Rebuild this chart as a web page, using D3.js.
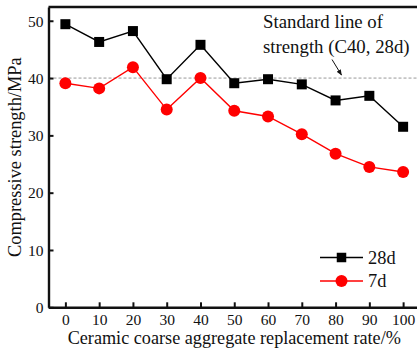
<!DOCTYPE html>
<html>
<head>
<meta charset="utf-8">
<script src="https://cdn.jsdelivr.net/npm/d3@7"></script>
<style>
  html, body { margin: 0; padding: 0; background: #fff; }
  svg { display: block; font-family: "Liberation Serif", "Times New Roman", serif; }
</style>
</head>
<body>
<svg id="chart" width="417" height="351"></svg>
<script>
// Replacement rate of ceramic coarse aggregate (%)
const rates = [0, 10, 20, 30, 40, 50, 60, 70, 80, 90, 100];
// Compressive strength (MPa)
const strength28d = [49.4, 46.3, 48.2, 39.8, 45.8, 39.1, 39.8, 38.9, 36.1, 36.9, 31.5];
const strength7d  = [39.1, 38.2, 41.9, 34.5, 40.0, 34.3, 33.3, 30.2, 26.8, 24.5, 23.6];
const yTicks = [0, 10, 20, 30, 40, 50];
const xTicks = [0, 10, 20, 30, 40, 50, 60, 70, 80, 90, 100];
const standardLine = 40;

const svg = d3.select("#chart");
const plotLeft = 48.5, plotRight = 420, plotTop = 7, plotBottom = 307.3;

const x = d3.scaleLinear().domain([-5, 105]).range([plotLeft, plotRight]);
const y = d3.scaleLinear().domain([0, 52.4]).range([plotBottom, plotTop]);

const ink = "#111";

// standard strength reference line
svg.append("line")
  .attr("x1", x(-5)).attr("x2", x(105))
  .attr("y1", y(standardLine)).attr("y2", y(standardLine))
  .attr("stroke", "#999").attr("stroke-width", 1)
  .attr("stroke-dasharray", "3,2");

// axes
const xAxis = d3.axisBottom(x).tickValues(xTicks).tickSizeInner(-5).tickSizeOuter(0).tickPadding(6.5);
const gx = svg.append("g").attr("transform", `translate(0,${plotBottom})`).call(xAxis);
const yAxis = d3.axisLeft(y).tickValues(yTicks).tickSizeInner(-5).tickSizeOuter(0).tickPadding(5);
const gy = svg.append("g").attr("transform", `translate(${plotLeft},0)`).call(yAxis);

[gx, gy].forEach(g => {
  g.select(".domain").attr("stroke", ink).attr("stroke-width", 2.4);
  g.selectAll(".tick line").attr("stroke", ink).attr("stroke-width", 2);
  g.selectAll(".tick text").attr("fill", ink).attr("font-size", 15.5)
    .attr("font-family", "Liberation Serif, serif");
});
gy.selectAll(".tick text").attr("dy", "0.34em");

// top border
svg.append("line")
  .attr("x1", plotLeft).attr("x2", plotRight)
  .attr("y1", plotTop).attr("y2", plotTop)
  .attr("stroke", ink).attr("stroke-width", 2.4);

// axis titles
svg.append("text")
  .attr("x", (x(0) + x(100)) / 2).attr("y", 344)
  .attr("text-anchor", "middle").attr("font-size", 18.2).attr("fill", ink)
  .text("Ceramic coarse aggregate replacement rate/%");

svg.append("text")
  .attr("transform", `translate(21,${(plotTop + plotBottom) / 2}) rotate(-90)`)
  .attr("text-anchor", "middle").attr("font-size", 18.4).attr("fill", ink)
  .text("Compressive strength/MPa");

// series
const series = [
  { name: "28d", values: strength28d, color: "#000", shape: "square" },
  { name: "7d", values: strength7d, color: "#ff0000", shape: "circle" }
];

const line = d3.line().x((d, i) => x(rates[i])).y(d => y(d));

function drawMarker(g, shape, cx, cy, color, size) {
  if (shape === "square") {
    g.append("rect")
      .attr("x", cx - size / 2).attr("y", cy - size / 2)
      .attr("width", size).attr("height", size)
      .attr("fill", color);
  } else {
    g.append("circle")
      .attr("cx", cx).attr("cy", cy).attr("r", size / 2)
      .attr("fill", color);
  }
}

series.forEach(s => {
  svg.append("path")
    .datum(s.values)
    .attr("d", line)
    .attr("fill", "none")
    .attr("stroke", s.color)
    .attr("stroke-width", 1.4);
  const g = svg.append("g");
  s.values.forEach((v, i) => {
    drawMarker(g, s.shape, x(rates[i]), y(v), s.color, s.shape === "square" ? 10 : 12);
  });
});

// legend
const legend = svg.append("g");
series.forEach((s, i) => {
  const ly = 257.5 + i * 23.5;
  legend.append("line")
    .attr("x1", 320).attr("x2", 363).attr("y1", ly).attr("y2", ly)
    .attr("stroke", s.color).attr("stroke-width", 1.4);
  drawMarker(legend, s.shape, 341.5, ly, s.color, s.shape === "square" ? 9.5 : 12);
  legend.append("text")
    .attr("x", 368).attr("y", ly).attr("dy", "0.34em")
    .attr("font-size", 18.4).attr("fill", ink)
    .text(s.name);
});

// annotation for the standard line
const note = svg.append("text").attr("font-size", 18.8).attr("fill", ink);
note.append("tspan").attr("x", 263).attr("y", 28).text("Standard line of");
note.append("tspan").attr("x", 263).attr("y", 52.5).text("strength (C40, 28d)");

svg.append("defs").append("marker")
  .attr("id", "arrowhead")
  .attr("viewBox", "0 0 10 10").attr("refX", 9).attr("refY", 5)
  .attr("markerWidth", 6).attr("markerHeight", 6)
  .attr("orient", "auto")
  .append("path").attr("d", "M0,1 L10,5 L0,9 z").attr("fill", ink);

svg.append("line")
  .attr("x1", 332).attr("y1", 59.5)
  .attr("x2", 341.5).attr("y2", y(standardLine) - 3)
  .attr("stroke", ink).attr("stroke-width", 1)
  .attr("marker-end", "url(#arrowhead)");
</script>
</body>
</html>
